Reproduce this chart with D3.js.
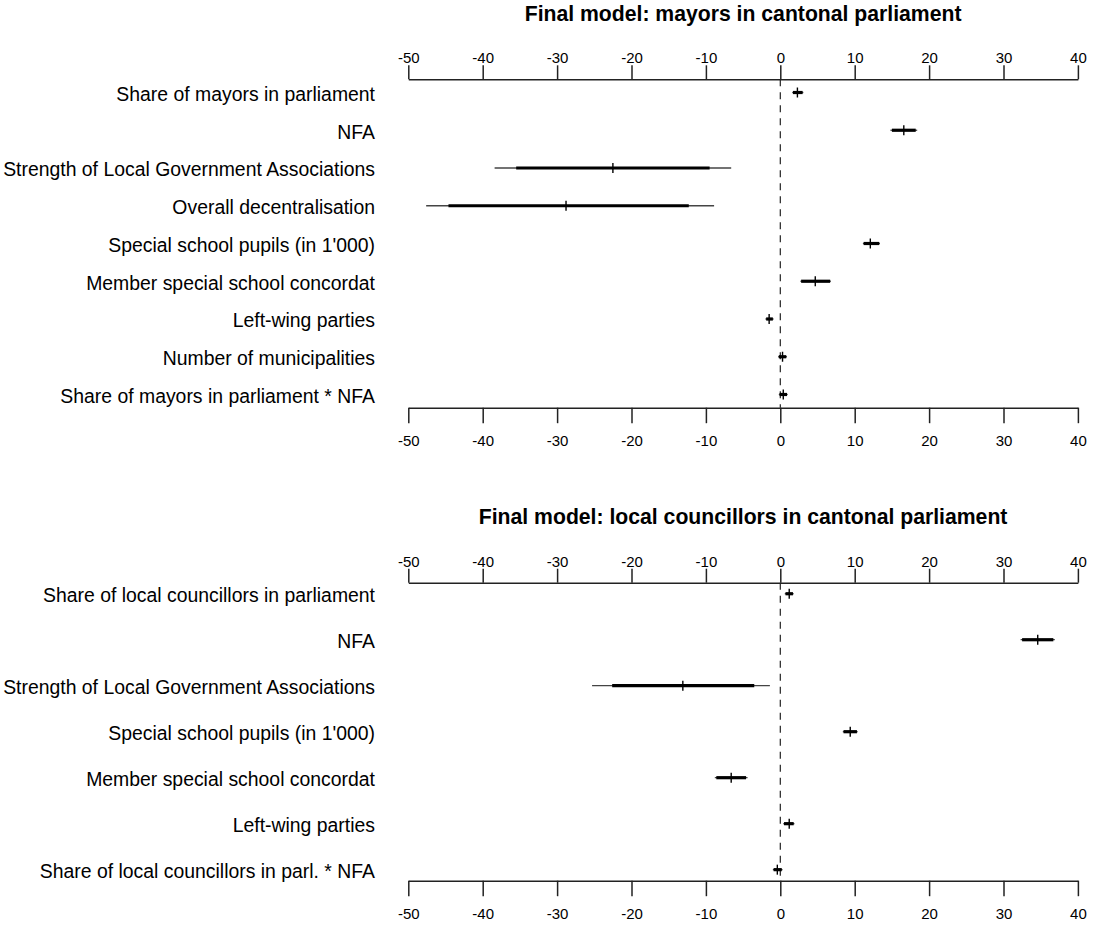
<!DOCTYPE html>
<html>
<head>
<meta charset="utf-8">
<script src="https://cdn.jsdelivr.net/npm/d3@7"></script>
<style>
  html, body { margin: 0; padding: 0; background: #fff; }
  svg { display: block; font-family: "Liberation Sans", Arial, sans-serif; }
</style>
</head>
<body>
<svg id="chart" width="1093" height="926"></svg>
<script>
// ---------- data ----------
const xTicks = [-50, -40, -30, -20, -10, 0, 10, 20, 30, 40];

const topTitle = "Final model: mayors in cantonal parliament";
const topLabels = [
  "Share of mayors in parliament",
  "NFA",
  "Strength of Local Government Associations",
  "Overall decentralisation",
  "Special school pupils (in 1'000)",
  "Member special school concordat",
  "Left-wing parties",
  "Number of municipalities",
  "Share of mayors in parliament * NFA"
];
const topEst    = [2.3, 16.6, -22.5, -28.8, 12.1, 4.7, -1.5, 0.3, 0.4];
const topLo1    = [1.7, 15.0, -35.5, -44.6, 11.2, 2.8, -1.9, -0.2, -0.1];
const topHi1    = [3.0, 18.2, -9.5, -12.3, 13.3, 6.7, -1.0, 0.8, 0.9];
const topLo2    = [1.6, 14.8, -38.4, -47.6, 11.1, 2.7, -2.0, -0.3, -0.2];
const topHi2    = [3.1, 18.4, -6.6, -8.9, 13.4, 6.8, -0.9, 0.9, 1.0];

const botTitle = "Final model: local councillors in cantonal parliament";
const botLabels = [
  "Share of local councillors in parliament",
  "NFA",
  "Strength of Local Government Associations",
  "Special school pupils (in 1'000)",
  "Member special school concordat",
  "Left-wing parties",
  "Share of local councillors in parl. * NFA"
];
const botEst    = [1.2, 34.6, -13.1, 9.4, -6.6, 1.2, -0.4];
const botLo1    = [0.7, 32.5, -22.6, 8.5, -8.6, 0.5, -0.9];
const botHi1    = [1.7, 36.7, -3.5, 10.3, -4.6, 1.8, 0.2];
const botLo2    = [0.6, 32.3, -25.3, 8.4, -8.8, 0.4, -1.0];
const botHi2    = [1.8, 36.9, -1.4, 10.4, -4.4, 1.9, 0.3];

// ---------- drawing ----------
const svg = d3.select("#chart");
const x = d3.scaleLinear().domain([-50, 40]).range([408.3, 1077.9]);
const fmt = d => String(d);   // plain hyphen-minus like the original

function panel(cfg) {
  const g = svg.append("g");
  const rows = cfg.labels.map((d, i) => ({
    label: d, est: cfg.est[i], lo1: cfg.lo1[i], hi1: cfg.hi1[i], lo2: cfg.lo2[i], hi2: cfg.hi2[i]
  }));
  const y = d3.scalePoint().domain(cfg.labels).range([cfg.top, cfg.bottom]).padding(cfg.pad);

  // title
  g.append("text")
    .attr("x", (x.range()[0] + x.range()[1]) / 2)
    .attr("y", cfg.titleY)
    .attr("text-anchor", "middle")
    .attr("font-weight", "bold")
    .attr("font-size", 21.2)
    .attr("fill", "#000")
    .text(cfg.title);

  // top axis
  const axTop = g.append("g").attr("transform", `translate(0,${cfg.top})`)
    .call(d3.axisTop(x).tickValues(xTicks).tickFormat(fmt).tickSize(14).tickSizeOuter(0).tickPadding(2));
  // bottom axis
  const axBot = g.append("g").attr("transform", `translate(0,${cfg.bottom})`)
    .call(d3.axisBottom(x).tickValues(xTicks).tickFormat(fmt).tickSize(15.5).tickSizeOuter(0).tickPadding(12));
  [axTop, axBot].forEach(a => {
    a.select(".domain").attr("stroke", "#222").attr("stroke-width", 1.5);
    a.selectAll(".tick line").attr("stroke", "#222").attr("stroke-width", 1.5);
    a.selectAll(".tick text").attr("font-size", 15).attr("fill", "#000")
      .attr("font-family", '"Liberation Sans", Arial, sans-serif');
  });

  // zero reference
  g.append("line")
    .attr("x1", x(0)).attr("x2", x(0))
    .attr("y1", cfg.top).attr("y2", cfg.bottom)
    .attr("stroke", "#222").attr("stroke-width", 1.2)
    .attr("stroke-dasharray", "7,6");

  // labels
  g.selectAll("text.lab").data(rows).join("text")
    .attr("class", "lab")
    .attr("x", 375)
    .attr("y", d => y(d.label) + 1.5)
    .attr("dy", "0.35em")
    .attr("text-anchor", "end")
    .attr("font-size", 19.4)
    .attr("fill", "#000")
    .text(d => d.label);

  // thin interval
  g.selectAll("line.thin").data(rows).join("line")
    .attr("class", "thin")
    .attr("x1", d => x(d.lo2)).attr("x2", d => x(d.hi2))
    .attr("y1", d => y(d.label)).attr("y2", d => y(d.label))
    .attr("stroke", "#444").attr("stroke-width", 1.3);
  // thick interval
  g.selectAll("line.thick").data(rows).join("line")
    .attr("class", "thick")
    .attr("x1", d => x(d.lo1)).attr("x2", d => x(d.hi1))
    .attr("y1", d => y(d.label)).attr("y2", d => y(d.label))
    .attr("stroke", "#000").attr("stroke-width", 3.2);
  // estimate
  g.selectAll("line.est").data(rows).join("line")
    .attr("class", "est")
    .attr("x1", d => x(d.est)).attr("x2", d => x(d.est))
    .attr("y1", d => y(d.label) - 5).attr("y2", d => y(d.label) + 5)
    .attr("stroke", "#000").attr("stroke-width", 1.4);
}

panel({ title: topTitle, titleY: 21, labels: topLabels, est: topEst, lo1: topLo1, hi1: topHi1,
        lo2: topLo2, hi2: topHi2, top: 79.3, bottom: 407.7, pad: 0.35 });
panel({ title: botTitle, titleY: 524, labels: botLabels, est: botEst, lo1: botLo1, hi1: botHi1,
        lo2: botLo2, hi2: botHi2, top: 582.7, bottom: 880.7, pad: 0.24 });
</script>
</body>
</html>
